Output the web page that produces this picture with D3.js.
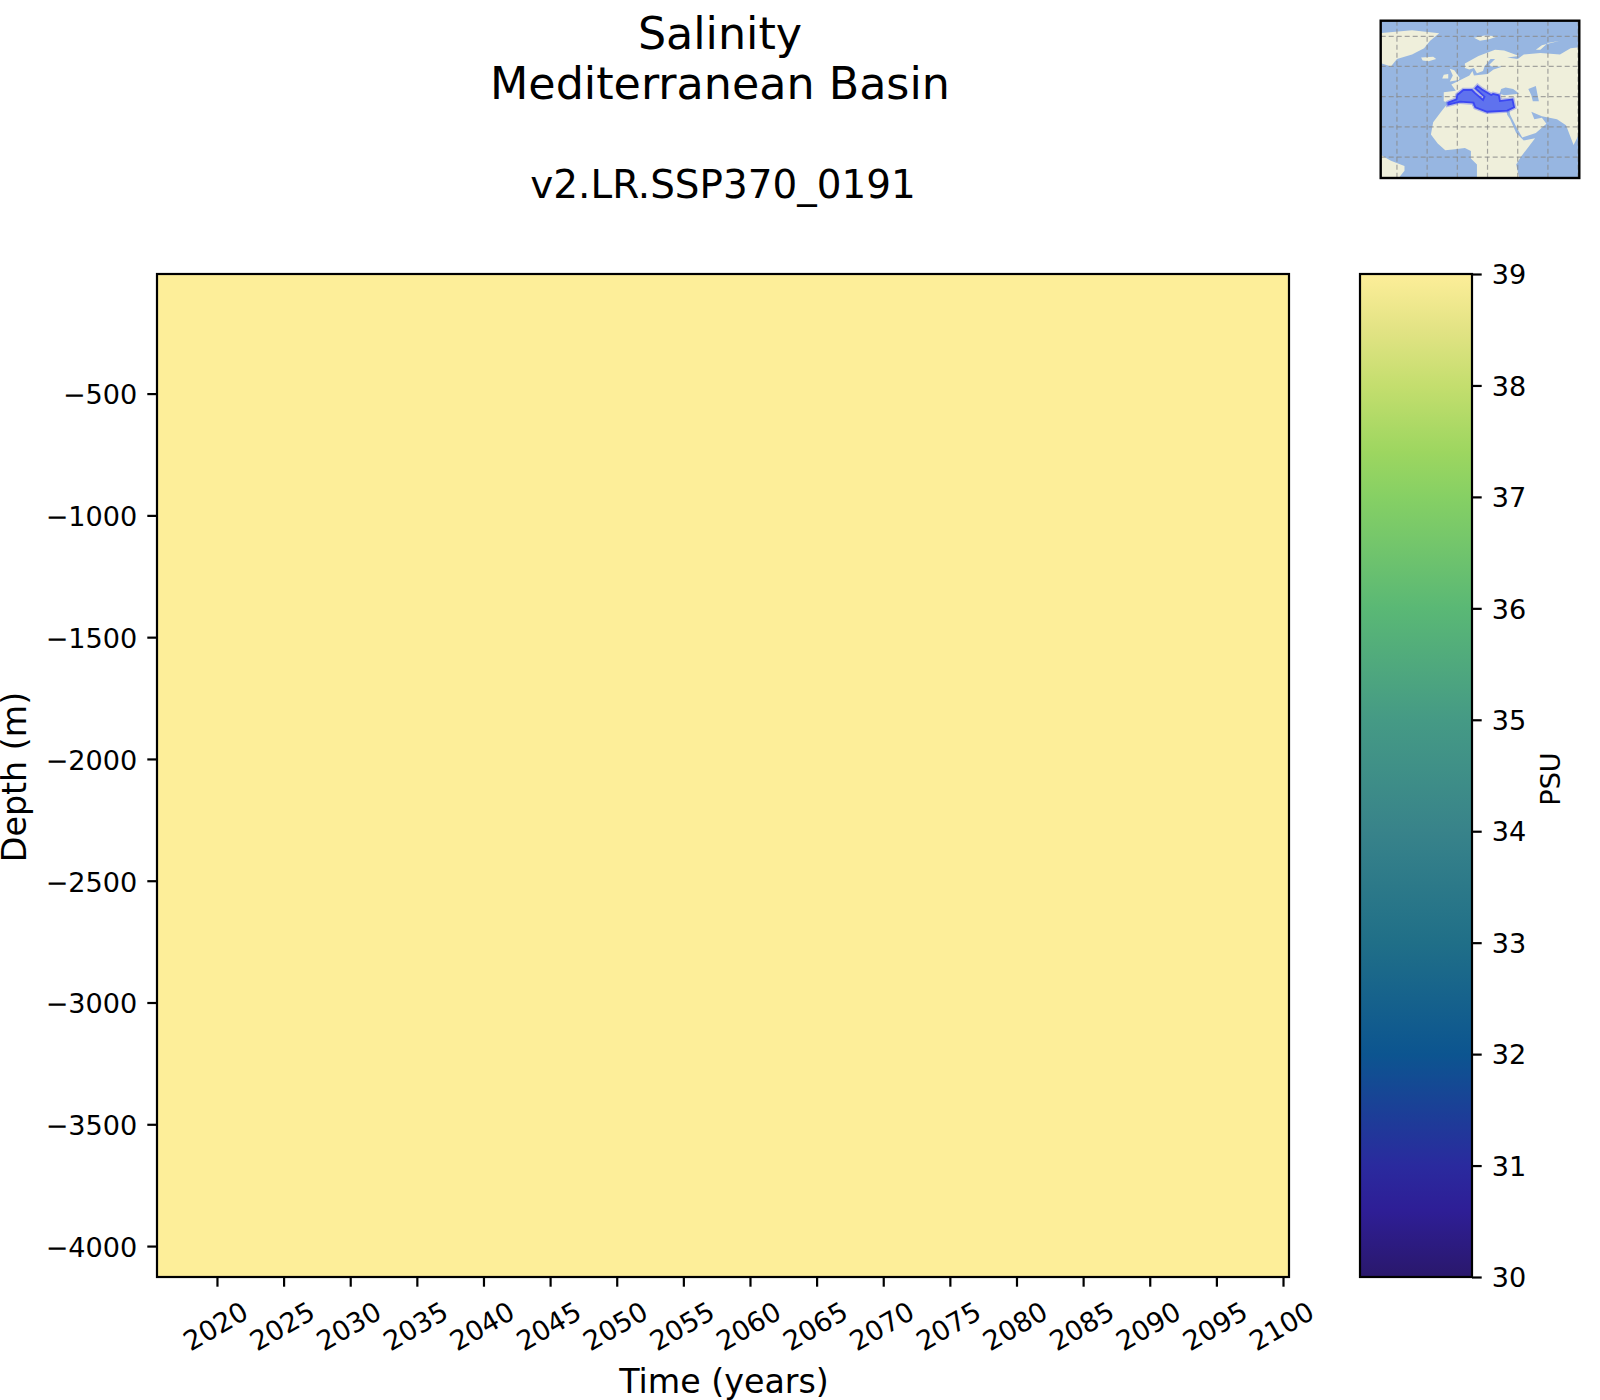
<!DOCTYPE html>
<html><head><meta charset="utf-8">
<script src="https://cdn.jsdelivr.net/npm/d3@7"></script>
<style>html,body{margin:0;background:#fff}svg{display:block}text{font-family:"DejaVu Sans";fill:#000}</style>
</head><body><svg id="c" width="1600" height="1400"></svg>
<script>
// ---- data ----
const titleLines = ["Salinity", "Mediterranean Basin"];
const runName = "v2.LR.SSP370_0191";
const xTicks = d3.range(2020, 2101, 5);
const yTicks = [-500, -1000, -1500, -2000, -2500, -3000, -3500, -4000];
const cbTicks = [30, 31, 32, 33, 34, 35, 36, 37, 38, 39];
const timeDomain = [2015.5, 2100.45];
const depthDomain = [-9, -4127];
const salinityFieldValue = 39;
const halineValues = [30, 30.6, 31, 32, 33, 34, 35, 36, 37, 37.4, 38, 38.5, 39];
const halineColors = ["#2a186c", "#2e1e96", "#2a2a9e", "#0c5590", "#206f88", "#38838a", "#459a85", "#5ab875", "#86d064", "#9dd660", "#c4de6e", "#e2e384", "#fdee99"];
const greenland = [[-52,82],[-30,84],[-12,82],[-18,77],[-22,72],[-30,68],[-40,65],[-44,60],[-50,62],[-53,68]];
const iceland = [[-24,66],[-16,66.5],[-14,65],[-19,63.5],[-23,64]];
const svalbard = [[11,79],[18,80.5],[27,80],[21,78],[15,77]];
const novaya = [[52,71],[56,74],[68,77],[60,75.5],[55,71]];
const britain = [[-5,58.5],[-2,57.5],[1.5,52.5],[1,51],[-5,50],[-3,54]];
const ireland = [[-10,52],[-6,52],[-6,55],[-9,54.5]];
const southAmerica = [[-53,4],[-50,1],[-44,-2.5],[-35,-6],[-35,-9],[-39,-14],[-53,-14]];
const africa = [[-6,36],[-10,31],[-16,23],[-17.5,15],[-13,9],[-8,4.5],[-3,5],[5,6],[9,4],[9,-1],[13,-5],[13,-14],[41,-14],[39,-5],[42,0],[51.5,12.5],[44,11],[39,16],[35,25],[33,28],[32.5,31],[25,32],[20,32],[19,30],[15,32],[10,34],[10,37],[0,36]];
const eurasia = [[-9,43],[-9,37],[-5,36],[0,38],[3,42],[8,44],[12,42],[16,38],[18,40],[13,45],[19,42],[22,37],[24,40],[27,37],[36,36.5],[34.5,31],[35,28],[39,20],[43,13],[52,16],[59,22],[56,26],[51,25],[49,30],[56,27],[66,25],[72,21],[77,8],[80,14],[83,16],[83,73],[75,72],[68,68],[55,69],[44,68],[40,65],[33,66],[41,67],[31,70.5],[25,71],[14,67],[5,62],[5,59],[8,58],[11,59],[13,55.5],[17,57],[18,60],[22,65],[25,65],[21,61],[23,60],[30,60],[24,58],[20,55],[11,54],[10,57],[8,54],[2,51],[-2,49],[-4,48],[-1,44]];
const blackSea = [[28,42],[29,45],[32,46],[37,45],[41,42],[36,41.5],[31,41]];
const caspian = [[47,45],[52,47],[53,42],[54,37],[50,37],[49,41]];
const mediterranean = [[-6,36],[-0.5,38.2],[0,41.1],[4,44.4],[9.6,44.4],[11.9,42.2],[17,37.8],[18,40],[12,45.5],[13.4,47],[16.3,44.8],[22.4,41.1],[23.7,41.8],[27.5,40.9],[28.2,37.1],[36.5,38.2],[37.6,33],[33,30.8],[19.7,30],[11.9,33],[10.7,36],[1.8,36.7],[-6,34.7]];
const gridLons = [-40, -20, 0, 20, 40, 60, 80];
const gridLats = [0, 20, 40, 60, 80];
// ---- layout ----
const svg = d3.select("#c");
const ax = {l:157, r:1289, t:274, b:1277};
const cb = {l:1360, r:1472};
const x = d3.scaleLinear().domain(timeDomain).range([ax.l, ax.r]);
const y = d3.scaleLinear().domain(depthDomain).range([ax.t, ax.b]);
const cy = d3.scaleLinear().domain([30, 39]).range([ax.b, ax.t]);
const haline = d3.scaleLinear().domain(halineValues).range(halineColors);
const tickFs = 27.1, labelFs = 33.3, titleFs = 44.4;

svg.append("rect").attr("x", x(timeDomain[0])).attr("y", y(depthDomain[0]))
  .attr("width", x(timeDomain[1]) - x(timeDomain[0])).attr("height", y(depthDomain[1]) - y(depthDomain[0]))
  .attr("fill", haline(salinityFieldValue));
svg.append("rect").attr("x", ax.l).attr("y", ax.t).attr("width", ax.r-ax.l).attr("height", ax.b-ax.t)
  .attr("fill", "none").attr("stroke", "#000").attr("stroke-width", 2.2);

const xAxis = svg.append("g").attr("transform", `translate(0,${ax.b})`)
  .call(d3.axisBottom(x).tickValues(xTicks).tickFormat(d3.format("d")).tickSize(9.7).tickPadding(6));
xAxis.select(".domain").remove();
xAxis.selectAll("line").attr("stroke", "#000").attr("stroke-width", 2.2);
xAxis.selectAll("text").attr("font-size", tickFs).attr("font-family", "DejaVu Sans")
  .attr("text-anchor", "middle").attr("dy", "0.36em").attr("y", 0)
  .attr("transform", "translate(-2,49) rotate(-30)");

const yAxis = svg.append("g").attr("transform", `translate(${ax.l},0)`)
  .call(d3.axisLeft(y).tickValues(yTicks).tickFormat(d => "\u2212" + Math.abs(d)).tickSize(9.7).tickPadding(10));
yAxis.select(".domain").remove();
yAxis.selectAll("line").attr("stroke", "#000").attr("stroke-width", 2.2);
yAxis.selectAll("text").attr("font-size", tickFs).attr("font-family", "DejaVu Sans").attr("dy", "0.38em");

// colour bar
const grad = svg.append("defs").append("linearGradient").attr("id", "hal")
  .attr("x1", 0).attr("x2", 0).attr("y1", 1).attr("y2", 0);
halineValues.forEach((v, i) => grad.append("stop").attr("offset", (v-30)/9).attr("stop-color", halineColors[i]));
svg.append("rect").attr("x", cb.l).attr("y", ax.t).attr("width", cb.r-cb.l).attr("height", ax.b-ax.t)
  .attr("fill", "url(#hal)").attr("stroke", "#000").attr("stroke-width", 2.2);
const cAxis = svg.append("g").attr("transform", `translate(${cb.r},0)`)
  .call(d3.axisRight(cy).tickValues(cbTicks).tickSize(9.7).tickPadding(10));
cAxis.select(".domain").remove();
cAxis.selectAll("line").attr("stroke", "#000").attr("stroke-width", 2.2);
cAxis.selectAll("text").attr("font-size", tickFs).attr("font-family", "DejaVu Sans").attr("dy", "0.36em");

// texts
svg.append("text").attr("x", 720).attr("y", 49).attr("text-anchor", "middle").attr("font-size", titleFs).text(titleLines[0]);
svg.append("text").attr("x", 720).attr("y", 99).attr("text-anchor", "middle").attr("font-size", titleFs).text(titleLines[1]);
svg.append("text").attr("x", 723).attr("y", 198).attr("text-anchor", "middle").attr("font-size", 38.9).text(runName);
svg.append("text").attr("x", 724).attr("y", 1393).attr("text-anchor", "middle").attr("font-size", labelFs).text("Time (years)");
svg.append("text").attr("transform", "translate(26,777) rotate(-90)").attr("text-anchor", "middle").attr("font-size", labelFs).text("Depth (m)");
svg.append("text").attr("transform", "translate(1560,779) rotate(-90)").attr("text-anchor", "middle").attr("font-size", tickFs).text("PSU");

// inset map
const m = {l:1380.7, r:1579.3, t:20.7, b:178};
const blur = svg.select("defs").append("filter").attr("id", "soft");
blur.append("feGaussianBlur").attr("stdDeviation", 0.4);
const proj = d3.geoEquirectangular().scale(86.5).translate([0, 0]);
const [ox, oy] = proj([0, 40]);
proj.translate([1360 + 292/3 - ox, 290/3 - oy]);
const clip = svg.append("defs").append("clipPath").attr("id", "mapclip");
clip.append("rect").attr("x", m.l).attr("y", m.t).attr("width", m.r-m.l).attr("height", m.b-m.t);
const map = svg.append("g").attr("clip-path", "url(#mapclip)").append("g").attr("filter", "url(#soft)");
const line = d3.line().x(d => proj(d)[0]).y(d => proj(d)[1]).curve(d3.curveLinearClosed);
map.append("rect").attr("x", m.l-3).attr("y", m.t-3).attr("width", m.r-m.l+6).attr("height", m.b-m.t+6).attr("fill", "#97b6e1");
[greenland, iceland, svalbard, novaya, britain, ireland, southAmerica, africa, eurasia].forEach(p =>
  map.append("path").attr("d", line(p)).attr("fill", "#efefdb"));
[blackSea, caspian].forEach(p => map.append("path").attr("d", line(p)).attr("fill", "#97b6e1"));
gridLons.forEach(lon => map.append("line").attr("x1", proj([lon, 0])[0]).attr("x2", proj([lon, 0])[0])
  .attr("y1", m.t).attr("y2", m.b).attr("stroke", "#8a8a8a").attr("stroke-opacity", .75).attr("stroke-width", 1.2).attr("stroke-dasharray", "5 3"));
gridLats.forEach(lat => map.append("line").attr("y1", proj([0, lat])[1]).attr("y2", proj([0, lat])[1])
  .attr("x1", m.l).attr("x2", m.r).attr("stroke", "#8a8a8a").attr("stroke-opacity", .75).attr("stroke-width", 1.2).attr("stroke-dasharray", "5 3"));
map.append("path").attr("d", line(mediterranean)).attr("fill", "none").attr("stroke", "#5a66f0").attr("stroke-opacity", .4).attr("stroke-width", 4.5);
map.append("path").attr("d", line(mediterranean)).attr("fill", "#5f72ee").attr("stroke", "#3b46f2").attr("stroke-width", 1.8);
svg.append("rect").attr("x", m.l).attr("y", m.t).attr("width", m.r-m.l).attr("height", m.b-m.t)
  .attr("fill", "none").attr("stroke", "#000").attr("stroke-width", 2.4);
</script></body></html>
